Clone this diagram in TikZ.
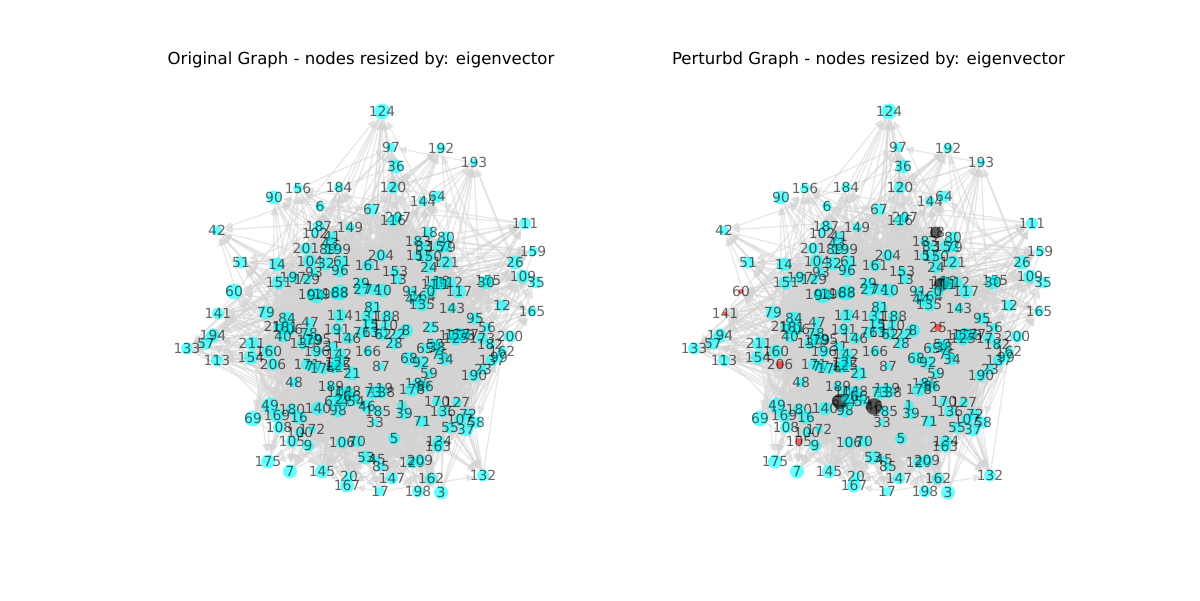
\documentclass[tikz,border=0pt]{standalone}
\usepackage{fontspec}
\setmainfont{DejaVu Sans}
\usetikzlibrary{arrows.meta, backgrounds}
\definecolor{edgegray}{RGB}{211,211,211}
\definecolor{nodecyan}{RGB}{0,255,255}

\tikzset{
    vertex/.style={circle, fill=nodecyan, fill opacity=0.6, inner sep=0pt},
    vlabel/.style={font=\fontsize{10}{10}\selectfont, text=black, text opacity=0.6, fill opacity=0, inner sep=0pt},
    link/.style={draw=edgegray, opacity=0.55, line width=0.9pt, shorten >=1.5pt, -{Triangle[length=6pt,width=5pt]}},
    bundle/.style={draw=edgegray, opacity=0.55, line width=0.9pt},
    headline/.style={font=\fontsize{11.9}{12}\selectfont}
}

% x/y/label/radius, in pixels of the page
\def\vertexlist{
274/198/90/7, 298/189/156/5, 339/188/184/5, 320/207/6/5, 217/231/42/5, 319/227/187/6, 350/228/149/5,
315/234/102/4, 332/237/41/5, 330/244/43/6, 328/250/89/6, 338/250/199/5, 306/249/201/6, 241/263/51/6,
277/265/14/7, 310/262/104/7, 326/264/32/7, 342/262/61/6, 340/271/96/7, 368/266/161/6, 314/273/93/5,
293/278/197/6, 307/280/129/5, 279/283/151/7, 234/292/60/8, 361/284/29/6, 362/290/27/7, 373/290/74/6,
383/291/10/7, 311/295/101/5, 316/296/94/8, 322/295/19/4, 335/294/168/6, 340/293/88/8, 382/112/124/8,
391/148/97/5, 441/149/192/5, 474/163/193/4, 396/167/36/7, 393/188/120/6, 423/202/144/5, 437/197/64/6,
372/210/67/6, 398/218/207/5, 393/221/116/6, 525/224/111/6, 429/233/18/6, 418/242/183/5, 446/238/80/6,
424/247/83/5, 440/247/152/7, 447/248/79/5, 533/252/159/5, 515/263/26/7, 381/256/204/6, 446/263/121/7,
419/256/157/6, 429/257/150/6, 429/268/24/6, 395/272/153/5, 398/280/13/5, 523/277/109/7, 536/283/35/6,
488/281/155/5, 486/283/30/7, 437/282/118/6, 450/283/112/6, 434/285/115/6, 441/285/11/6, 459/292/117/7,
411/292/91/5, 423/297/164/5, 414/300/44/6, 431/292/0/6, 422/305/135/7, 532/312/165/5, 502/306/12/6,
452/309/143/5, 475/319/95/6, 487/328/56/5, 431/328/25/6, 406/331/8/7, 387/317/188/6, 373/308/81/7,
367/317/131/6, 370/325/15/7, 375/333/130/5, 385/326/110/5, 383/335/62/6, 362/333/76/6, 397/335/22/5,
394/344/28/6, 452/336/123/5, 458/335/126/7, 462/336/128/6, 466/335/177/5, 456/339/125/7, 482/339/173/6,
510/337/200/6, 490/345/182/5, 502/352/162/5, 492/361/137/6, 499/358/99/5, 483/370/23/5, 474/376/190/6,
425/349/65/5, 435/345/50/6, 437/348/38/6, 440/355/75/5, 445/360/34/6, 409/359/68/7, 421/363/92/7,
429/374/59/5, 368/352/166/5, 381/367/87/4, 418/384/186/6, 425/387/86/6, 412/390/178/7, 380/389/119/5,
382/393/138/6, 373/393/73/7, 367/407/46/7, 378/412/185/5, 375/423/33/4, 402/406/1/5, 404/414/39/6,
422/422/71/6, 437/402/170/5, 457/403/127/5, 443/412/136/6, 468/415/72/6, 460/420/107/6, 476/423/58/6,
450/428/55/6, 466/430/37/7, 439/442/134/6, 438/447/163/6, 394/439/5/6, 357/442/70/6, 366/458/53/7,
377/460/45/4, 381/467/85/5, 412/463/129/6, 420/461/209/6, 483/476/132/6, 431/479/162/6, 392/479/147/6,
441/493/3/7, 418/492/198/6, 380/492/17/5, 218/314/141/6, 266/313/79/7, 287/319/84/7, 340/316/114/7,
310/323/47/5, 213/336/194/7, 206/344/57/6, 187/349/133/6, 277/327/210/4, 290/330/106/6, 285/328/181/7,
283/337/40/6, 309/334/78/7, 318/340/195/5, 303/344/139/6, 310/341/179/5, 337/330/191/6, 348/339/146/6,
252/344/211/7, 269/352/160/7, 251/358/154/7, 217/361/113/6, 273/365/206/6, 317/352/196/6, 332/347/31/5,
339/355/142/7, 307/365/171/6, 314/367/77/6, 323/369/174/6, 335/368/82/6, 338/363/122/7, 338/366/125/6,
352/374/21/7, 294/383/48/5, 331/387/189/5, 270/406/49/8, 292/410/180/6, 277/416/169/7, 299/418/16/7,
318/409/140/7, 338/411/98/7, 253/419/69/8, 279/428/108/6, 300/433/100/5, 312/430/172/4, 292/442/105/6,
308/446/9/6, 342/443/106/6, 268/462/175/7, 290/472/7/7, 322/472/145/7, 349/477/20/5, 347/486/167/7,
340/393/103/6, 348/392/148/6, 333/402/63/6, 345/402/4/6, 352/397/66/6, 339/400/2/5, 356/402/54/5}

% squared distance of vertex #1 from the middle of the left panel
\newcommand{\middist}[1]{\numexpr(\csname vx#1\endcsname-362)*(\csname vx#1\endcsname-362)+(\csname vy#1\endcsname-345)*(\csname vy#1\endcsname-345)\relax}

% one panel: vertices first, then links behind them
\newcommand{\drawgraph}[2]{
    \foreach \px/\py/\lbl/\rad [count=\i] in \vertexlist {
        \node[vertex, minimum size=2*0.72pt*\rad, over\lbl/.try, label={[vlabel]center:\lbl}] (#1\i) at (\px+#2,\py-0.5) {};
        \xdef\nverts{\i}
        \expandafter\xdef\csname vx\i\endcsname{\px}
        \expandafter\xdef\csname vy\i\endcsname{\py}
    }
    \pgfmathsetseed{4242}
    \begin{scope}[on background layer]
        % links into every vertex
        \foreach \i in {1,...,\nverts} {
            \foreach \k in {1,...,7} {
                \pgfmathrandominteger{\src}{1}{\nverts}
                \ifnum\src=\i\else
                    \draw[link] (#1\src) -- (#1\i);
                \fi
            }
        }
        % extra links in the dense middle, one path per vertex
        \foreach \i in {1,...,\nverts} {
            \ifnum\middist{\i}<19000
                \gdef\fanlinks{}
                \foreach \k in {1,...,18} {
                    \pgfmathrandominteger{\src}{1}{\nverts}
                    \ifnum\middist{\src}<19000
                        \ifnum\src=\i\else
                            \xdef\fanlinks{\fanlinks (#1\src) -- (#1\i) }
                        \fi
                    \fi
                }
                \draw[bundle] \fanlinks;
            \fi
        }
    \end{scope}
}

\begin{document}
\begin{tikzpicture}[x=0.72pt, y=-0.72pt]
    \useasboundingbox (0,0) rectangle (1200,600);

    % Left panel
    \node[headline] (titleleft) at (361,59.5) {Original Graph - nodes resized by: eigenvector};
    \drawgraph{a}{0}

    % Right panel, same layout moved across
    \node[headline] (titleright) at (868.5,59.5) {Perturbd Graph - nodes resized by: eigenvector};
    \begin{scope}[
        over18/.style={fill=black},
        over115/.style={fill=black, minimum size=10pt},
        over63/.style={fill=black, minimum size=11pt},
        over46/.style={fill=black, minimum size=12pt},
        over25/.style={fill=red, minimum size=5.5pt},
        over206/.style={fill=red, minimum size=5.5pt},
        over105/.style={fill=red, minimum size=5pt},
        over60/.style={fill=red, minimum size=3.5pt},
        over141/.style={fill=red, minimum size=3pt}]
        \drawgraph{b}{507}
    \end{scope}
\end{tikzpicture}
\end{document}
